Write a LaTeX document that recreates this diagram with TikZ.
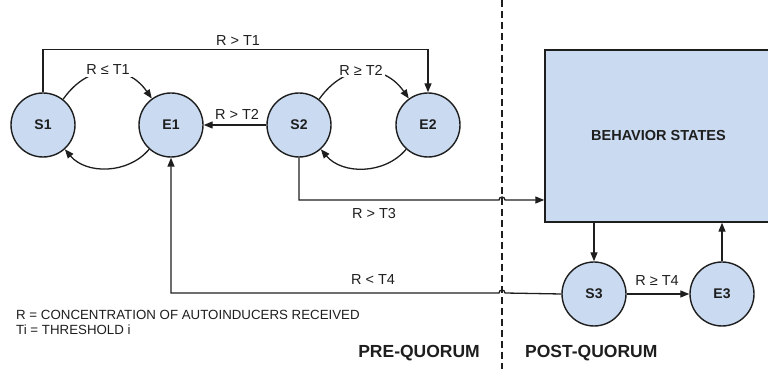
\documentclass[tikz,border=0pt]{standalone}
\usepackage{fontspec}
\setmainfont{Liberation Sans}
\usetikzlibrary{arrows.meta}
\definecolor{statefill}{RGB}{202,218,240}
\definecolor{inkline}{RGB}{30,30,30}
\begin{document}
\begin{tikzpicture}[x=1pt,y=1pt,
  every node/.style={inner sep=1pt, text=inkline},
  state/.style={circle, draw=inkline, line width=1.4pt, fill=statefill,
    minimum size=64pt, font=\fontsize{14}{16}\selectfont\bfseries},
  bigbox/.style={rectangle, draw=inkline, line width=1.4pt, fill=statefill,
    minimum width=227pt, minimum height=172pt, font=\fontsize{14.5}{16}\selectfont\bfseries},
  cond/.style={font=\fontsize{14.5}{16}\selectfont},
  onarc/.style={cond, fill=white, inner sep=2pt},
  link/.style={draw=inkline, line width=1.3pt, -{Triangle[length=9pt,width=7pt]}},
  phase/.style={font=\fontsize{17.5}{20}\selectfont\bfseries},
  legend/.style={font=\fontsize{13.3}{15}\selectfont, anchor=west}]
\useasboundingbox (0,0) rectangle (768,369);

% quorum divider
\draw[inkline, line width=1.4pt, dash pattern=on 7pt off 4pt] (502,369) -- (502,0);

% states
\node[state] (S1) at (43,244) {S1};
\node[state] (E1) at (171,244) {E1};
\node[state] (S2) at (299,244) {S2};
\node[state] (E2) at (428,244) {E2};
\node[state] (S3) at (594,75) {S3};
\node[state] (E3) at (722,75) {E3};
\node[bigbox] (B) at (658.5,233) {BEHAVIOR STATES};

% crossing points with the divider
\coordinate (X1) at (502,169);
\coordinate (X2) at (502,76);

% S1 transitions
\draw[link] (S1.north) -- ++(0,43) -| (E2.north);
\node[cond] (t1) at (238,328) {R > T1};
\draw[link] (S1.52) to[out=55,in=125,looseness=1.25] (E1.126);
\node[onarc] (t1b) at (108,299) {R ≤ T1};
\draw[link] (E1.-132) to[out=-130,in=-50,looseness=1.0] (S1.-48);

% S2 transitions
\draw[link] (S2.west) -- (E1.east);
\node[cond] (t2) at (237,255) {R > T2};
\draw[link] (S2.52) to[out=55,in=125,looseness=1.25] (E2.126);
\node[onarc] (t2b) at (361,299) {R ≥ T2};
\draw[link] (E2.-132) to[out=-130,in=-50,looseness=1.0] (S2.-48);

% S2 into the behavior states, hopping over the divider
\draw[link] (S2.south) |- ([xshift=-3pt]X1) arc[start angle=180,end angle=0,radius=3] -- (B.west |- X1);
\node[cond] (t3) at (374,155) {R > T3};

% post-quorum loop
\draw[link] (B.south -| S3.north) -- (S3.north);
\draw[link] (E3.north) -- (B.south -| E3.north);
\draw[link] (S3.east) -- (E3.west);
\node[cond] (t4b) at (657,88) {R ≥ T4};

% back to E1, hopping over the divider
\draw[link] (S3.west) -- ([xshift=3pt]X2) arc[start angle=0,end angle=180,radius=3] -| (E1.south);
\node[cond] (t4) at (373,89) {R < T4};

% legend and phase labels
\node[legend] (L1) at (15,54) {R = CONCENTRATION OF AUTOINDUCERS RECEIVED};
\node[legend] (L2) at (15,39) {Ti = THRESHOLD i};
\node[phase, anchor=east] (pre) at (481,16) {PRE-QUORUM};
\node[phase, anchor=west] (post) at (524,16) {POST-QUORUM};
\end{tikzpicture}
\end{document}
